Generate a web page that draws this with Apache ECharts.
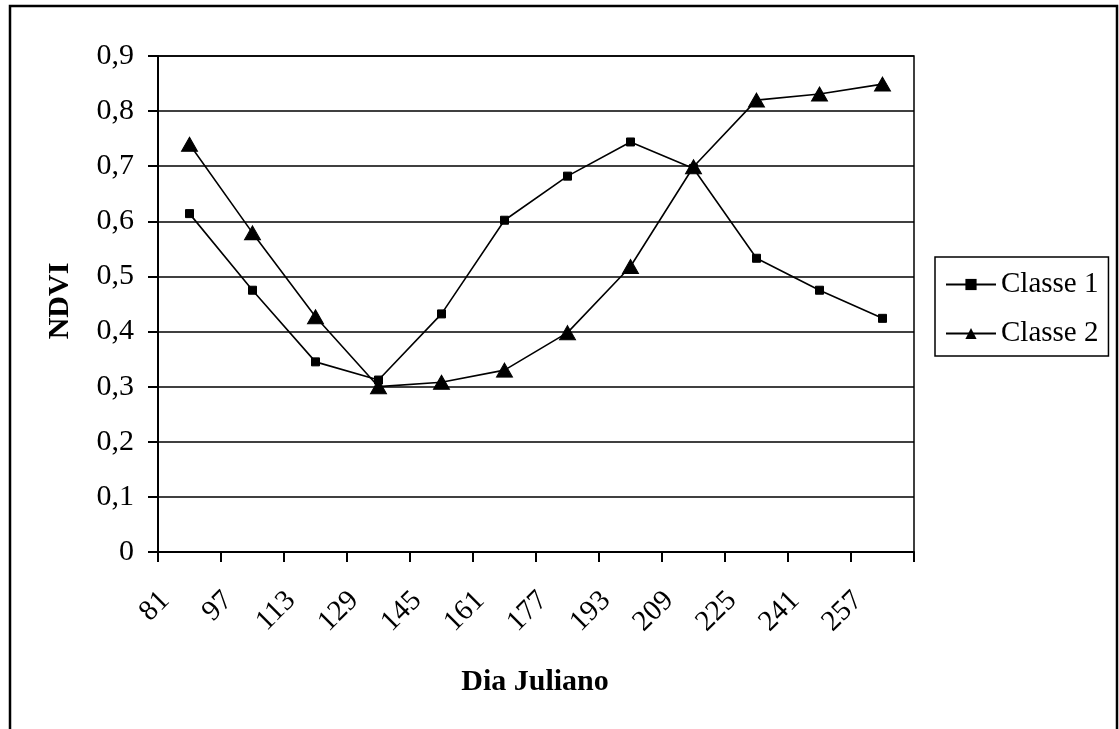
<!DOCTYPE html>
<html>
<head>
<meta charset="utf-8">
<script src="https://cdn.jsdelivr.net/npm/echarts@6/dist/echarts.min.js"></script>
<style>
  html, body { margin: 0; padding: 0; background: #ffffff; }
  #chart { width: 1119px; height: 729px; }
</style>
</head>
<body>
<div id="chart"></div>
<script>
// Julian day of each acquisition (category labels)
const days = ['81', '97', '113', '129', '145', '161', '177', '193', '209', '225', '241', '257'];
// NDVI profiles of the two classes
const classe1 = [0.614, 0.475, 0.345, 0.312, 0.432, 0.602, 0.682, 0.744, 0.696, 0.533, 0.475, 0.424];
const classe2 = [0.740, 0.579, 0.427, 0.300, 0.308, 0.330, 0.398, 0.518, 0.699, 0.820, 0.831, 0.849];
// NDVI axis range
const yMin = 0, yMax = 0.9, yStep = 0.1;

const FONT = "'Liberation Serif', 'Times New Roman', serif";
const INK = '#000000';

const plot = { left: 158, top: 56, width: 756, height: 496 };
const labelShift = 7; // day labels sit slightly right of their ticks

const chart = echarts.init(document.getElementById('chart'), null, { renderer: 'canvas' });

chart.setOption({
  animation: false,
  backgroundColor: '#ffffff',
  grid: [
    Object.assign({ show: true, borderColor: INK, borderWidth: 1.5, backgroundColor: 'transparent' }, plot),
    { left: plot.left + labelShift, top: plot.top, width: plot.width, height: plot.height, show: false }
  ],
  xAxis: [
    {
      type: 'category',
      gridIndex: 0,
      data: days,
      boundaryGap: true,
      axisLine: { show: true, lineStyle: { color: INK, width: 2 } },
      axisTick: { show: true, length: 10, lineStyle: { color: INK, width: 2 } },
      axisLabel: { show: false },
      splitLine: { show: false }
    },
    {
      // label-only axis: one label per tick boundary
      type: 'category',
      gridIndex: 1,
      data: days.concat(['']),
      boundaryGap: false,
      axisLine: { show: false },
      axisTick: { show: false },
      splitLine: { show: false },
      axisLabel: {
        show: true,
        interval: 0,
        rotate: 45,
        margin: 44,
        color: INK,
        fontFamily: FONT,
        fontSize: 29
      }
    }
  ],
  yAxis: [
    {
      type: 'value',
      gridIndex: 0,
      min: yMin,
      max: yMax,
      interval: yStep,
      axisLine: { show: true, lineStyle: { color: INK, width: 2 } },
      axisTick: { show: true, length: 10, lineStyle: { color: INK, width: 2 } },
      splitLine: { show: true, lineStyle: { color: INK, width: 1.5 } },
      axisLabel: {
        margin: 24,
        color: INK,
        fontFamily: FONT,
        fontSize: 30,
        formatter: v => (Math.abs(v) < 1e-9 ? '0' : v.toFixed(1).replace('.', ','))
      }
    },
    { type: 'value', gridIndex: 1, min: yMin, max: yMax, show: false }
  ],
  legend: {
    left: 935,
    top: 257,
    orient: 'vertical',
    itemWidth: 50,
    itemHeight: 14,
    itemGap: 20,
    padding: [13, 10, 8, 10],
    borderColor: INK,
    borderWidth: 1.5,
    borderRadius: 0,
    backgroundColor: '#ffffff',
    textStyle: { color: INK, fontFamily: FONT, fontSize: 29, lineHeight: 27 },
    data: ['Classe 1', 'Classe 2']
  },
  series: [
    {
      name: 'Classe 1',
      type: 'line',
      xAxisIndex: 0,
      yAxisIndex: 0,
      data: classe1,
      symbol: 'rect',
      symbolSize: 8,
      showAllSymbol: true,
      lineStyle: { color: INK, width: 1.6 },
      itemStyle: { color: INK, borderColor: INK },
      emphasis: { disabled: true }
    },
    {
      name: 'Classe 2',
      type: 'line',
      xAxisIndex: 0,
      yAxisIndex: 0,
      data: classe2,
      symbol: 'triangle',
      symbolSize: [16, 14],
      showAllSymbol: true,
      lineStyle: { color: INK, width: 1.6 },
      itemStyle: { color: INK, borderColor: INK },
      emphasis: { disabled: true }
    }
  ],
  graphic: [
    {
      type: 'rect',
      shape: { x: 10, y: 6, width: 1107, height: 780 },
      style: { fill: null, stroke: INK, lineWidth: 2.5 },
      silent: true,
      z: -1
    },
    {
      type: 'text',
      x: 60,
      y: 301,
      rotation: Math.PI / 2,
      style: {
        text: 'NDVI',
        fill: INK,
        font: "bold 30px " + FONT,
        align: 'center',
        verticalAlign: 'middle'
      }
    },
    {
      type: 'text',
      x: 535,
      y: 682,
      style: {
        text: 'Dia Juliano',
        fill: INK,
        font: "bold 30px " + FONT,
        align: 'center',
        verticalAlign: 'middle'
      }
    }
  ]
});
</script>
</body>
</html>
